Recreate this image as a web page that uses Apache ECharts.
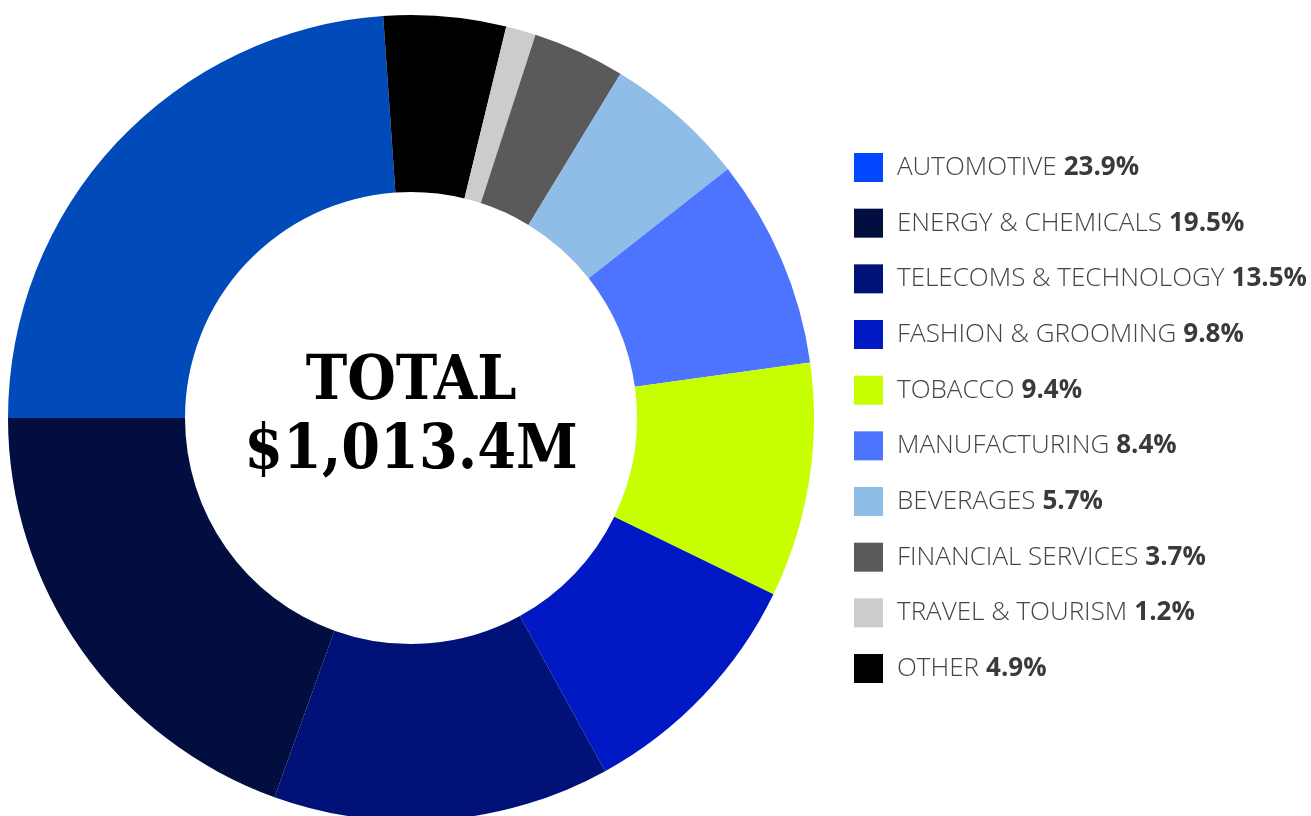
<!DOCTYPE html>
<html>
<head>
<meta charset="utf-8">
<script src="https://cdn.jsdelivr.net/npm/echarts@6/dist/echarts.min.js"></script>
<style>
  html, body { margin: 0; padding: 0; background: #ffffff; }
  #chart { width: 1311px; height: 816px; }
</style>
</head>
<body>
<div id="chart"></div>
<script>
// Sectors in legend order with their share of total spend (%)
const categories = [
  'AUTOMOTIVE', 'ENERGY & CHEMICALS', 'TELECOMS & TECHNOLOGY', 'FASHION & GROOMING',
  'TOBACCO', 'MANUFACTURING', 'BEVERAGES', 'FINANCIAL SERVICES', 'TRAVEL & TOURISM', 'OTHER'
];
const shares = [23.9, 19.5, 13.5, 9.8, 9.4, 8.4, 5.7, 3.7, 1.2, 4.9];
// Order of slices around the ring, clockwise from 9 o'clock
const sliceOrder = [
  'AUTOMOTIVE', 'OTHER', 'TRAVEL & TOURISM', 'FINANCIAL SERVICES', 'BEVERAGES',
  'MANUFACTURING', 'TOBACCO', 'FASHION & GROOMING', 'TELECOMS & TECHNOLOGY', 'ENERGY & CHEMICALS'
];
const totalLabel = ['TOTAL', '$1,013.4M'];

// Styling
const sliceColors = {
  'AUTOMOTIVE': '#004bb9',
  'ENERGY & CHEMICALS': '#020d40',
  'TELECOMS & TECHNOLOGY': '#001178',
  'FASHION & GROOMING': '#0019c4',
  'TOBACCO': '#c8ff00',
  'MANUFACTURING': '#4d74ff',
  'BEVERAGES': '#8fbde8',
  'FINANCIAL SERVICES': '#5a5a5a',
  'TRAVEL & TOURISM': '#cccccc',
  'OTHER': '#000000'
};
const legendColors = Object.assign({}, sliceColors, { 'AUTOMOTIVE': '#0047ff' });

const shareOf = {};
categories.forEach((c, i) => { shareOf[c] = shares[i]; });

const chart = echarts.init(document.getElementById('chart'), null, { renderer: 'canvas' });

chart.setOption({
  animation: false,
  backgroundColor: '#ffffff',
  legend: {
    orient: 'vertical',
    left: 854,
    top: 153,
    padding: 0,
    itemWidth: 29,
    itemHeight: 29,
    itemGap: 26.67,
    icon: 'rect',
    selectedMode: false,
    data: categories.map(c => ({ name: c, itemStyle: { color: legendColors[c] } })),
    formatter: name => '{n|' + name + '}{v|' + shareOf[name].toFixed(1) + '%}',
    textStyle: {
      padding: [0, 0, 0, 9],
      rich: {
        n: { fontFamily: 'Open Sans', fontWeight: 300, fontSize: 26, lineHeight: 29, color: '#444444' },
        v: { fontFamily: 'Open Sans', fontWeight: 'bold', fontSize: 26, lineHeight: 29, color: '#3a3a3a', padding: [0, 0, 0, 7] }
      }
    }
  },
  series: [{
    type: 'pie',
    center: [411, 418],
    radius: [226, 403],
    startAngle: 180,
    clockwise: true,
    avoidLabelOverlap: false,
    label: { show: false },
    labelLine: { show: false },
    emphasis: { disabled: true },
    itemStyle: { borderWidth: 0 },
    data: sliceOrder.map(c => ({ name: c, value: shareOf[c], itemStyle: { color: sliceColors[c] } }))
  }],
  graphic: [{
    type: 'text',
    x: 411,
    y: 417,
    style: {
      text: totalLabel.join('\n'),
      fontFamily: 'DejaVu Serif Condensed',
      fontWeight: 'bold',
      fontSize: 62,
      lineHeight: 69,
      fill: '#000000',
      align: 'center',
      verticalAlign: 'middle'
    }
  }]
});
</script>
</body>
</html>
